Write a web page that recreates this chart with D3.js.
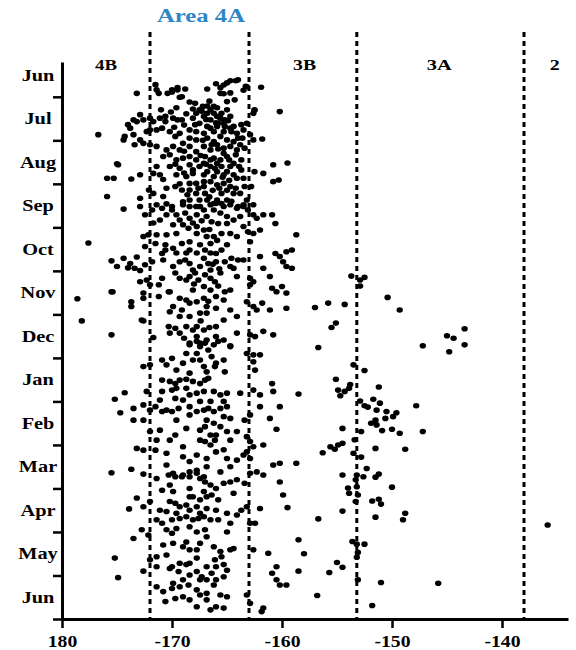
<!DOCTYPE html>
<html><head><meta charset="utf-8">
<script src="https://cdnjs.cloudflare.com/ajax/libs/d3/7.8.5/d3.min.js"></script>
<style>
html,body{margin:0;padding:0;background:#fff;}
svg{display:block;}
text{font-family:"Liberation Serif","Times New Roman",serif;font-weight:bold;}
</style></head>
<body><svg id="chart" width="576" height="650"></svg>
<script>
// ---------- data ----------
const monthLabels = ["Jun","Jul","Aug","Sep","Oct","Nov","Dec","Jan","Feb","Mar","Apr","May","Jun"];
const lonTicks = [-180,-170,-160,-150,-140];
const boundaries = [-172,-163,-153.2,-138];
const areaLabels = ["4B","3B","3A","2"];
const areaTitle = "Area 4A";
// observations: [longitude, months since 1 June]
const obsSummer = [
[-173.2,0.92],[-171.5,0.72],[-171.2,0.92],[-170.4,0.92],[-170.0,0.89],[-169.5,0.84],[-168.8,0.82],[-169.3,1.01],[-166.8,0.82],[-166.0,0.70],[-165.3,0.73],[-164.7,0.63],[-164.2,0.63],[-165.6,0.92],[-165.3,0.93],[-163.3,0.76],[-163.5,0.85],[-161.9,0.78],[-164.3,1.07],[-165.0,1.11],
[-171.4,0.84],[-170.0,0.84],[-169.5,0.79],[-169.1,1.0],[-165.6,0.79],[-165.0,0.68],[-164.0,0.61],[-164.7,0.91],[-163.2,0.77],[-162.5,1.30],
[-172.9,1.41],[-173.5,1.53],[-174.0,1.64],[-173.8,1.72],[-173.2,1.57],[-172.6,1.53],[-172.0,1.49],[-171.7,1.57],[-171.1,1.49],[-170.6,1.45],[-170.6,1.57],[-169.9,1.49],[-169.5,1.53],[-169.1,1.53],[-168.7,1.39],[-168.1,1.28],[-167.8,1.38],[-167.2,1.22],[-166.8,1.21],[-166.5,1.30],[-166.2,1.38],[-165.9,1.45],[-165.5,1.38],[-165.0,1.30],[-164.7,1.45],[-167.1,1.45],[-166.5,1.53],[-165.8,1.61],[-165.3,1.61],[-164.4,1.68],[-163.7,1.64],[-163.2,1.61],[-162.6,1.38],[-162.5,1.31],[-160.2,1.34],[-168.1,1.49],[-167.9,1.64],
[-176.7,1.87],[-174.4,1.99],[-174.3,1.91],[-173.5,1.87],[-172.9,1.99],[-172.3,1.80],[-172.0,1.76],[-171.4,1.76],[-170.9,1.72],[-170.2,1.80],[-169.7,1.91],[-169.3,1.84],[-168.4,1.76],[-167.8,1.80],[-167.1,1.84],[-166.5,1.72],[-165.9,1.68],[-165.3,1.80],[-164.7,1.72],[-164.1,1.84],[-163.5,1.76],[-162.9,1.87],[-162.6,1.99],[-161.8,1.97],
[-173.4,2.10],[-172.6,2.07],[-172.0,2.10],[-171.4,2.14],[-170.5,2.22],[-169.9,2.14],[-169.3,2.22],[-168.4,2.14],[-167.8,2.26],[-167.1,2.14],[-166.5,2.22],[-165.9,2.10],[-165.3,2.18],[-164.7,2.14],[-164.1,2.22],[-163.4,2.18],[-170.8,2.37],[-170.2,2.33],[-169.6,2.45],[-169.0,2.41],[-168.4,2.37],[-167.8,2.45],[-167.0,2.37],[-166.2,2.41],[-165.6,2.45],[-165.0,2.37],[-164.4,2.53],[-163.7,2.45],[-171.4,2.60],[-170.2,2.60],[-169.3,2.64],[-168.4,2.56],[-167.5,2.60],[-166.5,2.60],[-165.5,2.60],[-164.7,2.60],[-163.7,2.68],[-174.9,2.56],[-160.8,2.56],[-159.5,2.52],
[-175.9,2.87],[-175.3,2.87],[-173.7,2.89],[-172.9,2.79],[-171.7,2.76],[-171.1,2.79],[-169.6,2.79],[-168.7,2.83],[-168.1,2.76],[-167.1,2.79],[-166.2,2.83],[-165.3,2.79],[-164.4,2.79],[-163.5,2.87],[-162.5,2.72],[-161.7,2.76],[-160.8,2.95],[-160.3,2.91],
[-175.9,3.29],[-174.4,3.58],[-172.9,3.33],[-172.1,3.14],[-171.7,3.22],[-170.8,3.29],[-170.0,3.52],[-169.7,3.06],[-169.1,3.14],[-168.4,3.14],[-167.8,3.22],[-167.1,3.06],[-166.8,3.37],[-166.2,3.45],[-165.5,3.22],[-165.0,3.37],[-164.4,3.22],[-164.0,3.52],[-163.2,3.37],[-162.8,3.06],[-162.6,3.48],[-170.5,3.10],[-169.0,3.41],[-167.8,3.52],
[-167.5,1.30],[-166.8,1.38],[-166.2,1.22],[-165.6,1.49],[-165.2,1.53],[-167.5,1.61],[-166.8,1.68],[-166.2,1.80],[-165.6,1.91],[-165.0,1.99],[-164.4,2.03],[-166.8,1.95],[-166.2,2.03],[-167.8,1.99],[-168.4,1.95],[-169.0,2.07],[-166.5,2.45],[-165.9,2.53],[-167.1,2.53],[-168.1,2.68],[-166.8,2.72],[-165.9,2.72],[-165.0,2.72],[-164.1,2.87],[-166.5,2.95],[-165.9,3.02],[-165.3,2.99],[-164.7,3.06],[-167.1,2.95],[-167.8,2.99],[-168.4,2.99],[-163.8,3.22],[-163.4,3.06],[-163.5,3.52],[-165.9,3.37],[-167.5,3.37],[-168.4,3.37],
[-175.0,2.54],
[-167.9,1.15],[-167.3,1.33],[-166.9,1.52],[-166.0,1.60],[-165.2,1.68],[-164.6,1.80],[-164.0,1.95],[-163.8,2.10],[-164.2,2.33],[-164.8,2.45],[-165.3,2.30],[-165.8,2.20],[-166.4,2.10],[-167.2,2.00],[-167.4,2.35],[-166.9,2.55],[-166.1,2.65],[-165.4,2.85],[-164.8,2.92],[-164.2,3.10],[-165.0,3.15],[-165.7,3.10],[-166.3,3.15],[-167.0,3.22],[-167.6,3.10],[-166.6,3.30],[-165.5,3.45],[-164.6,3.40],[-163.9,2.60],[-163.6,1.95],[-164.9,1.55],[-165.9,1.25],[-166.6,1.10],[-168.4,1.12],[-169.6,1.25],[-170.1,1.35],[-171.0,1.30],[-168.9,1.65],[-169.8,1.70],[-168.9,2.25],[-169.7,2.55],[-170.8,2.90],[-169.3,3.00],[-168.6,3.25],[-168.9,2.75]
];
const obsAutumn = [
[-172.9,3.52],[-172.45,3.71],[-171.8,3.60],[-171.4,3.48],[-170.9,3.56],[-170.5,3.46],[-170.0,3.60],[-169.6,3.71],[-169.3,3.83],[-168.8,3.67],[-168.4,3.79],[-168.1,3.90],[-168.5,4.02],[-169.0,3.94],[-167.75,3.71],[-167.1,3.60],[-166.5,3.48],[-166.0,3.45],[-165.3,3.52],[-164.7,3.48],[-164.1,3.56],[-163.5,3.48],[-163.1,3.60],[-162.6,3.71],[-162.3,3.79],[-161.7,3.71],[-160.9,3.71],[-160.6,3.91],[-164.4,3.83],[-165.0,3.91],[-165.8,3.91],[-163.5,3.98],[-163.1,4.10],[-162.6,4.14],[-162.0,4.06],[-165.5,4.14],[-167.1,4.06],[-166.85,4.21],[-169.6,4.14],[-170.5,4.17],[-171.4,4.17],[-172.15,4.17],[-172.6,4.21],[-177.6,4.36],
[-172.45,4.44],[-171.5,4.37],[-170.6,4.40],[-169.9,4.48],[-169.1,4.37],[-168.4,4.33],[-167.45,4.40],[-167.0,4.52],[-166.5,4.37],[-166.0,4.60],[-165.5,4.52],[-165.0,4.40],[-162.9,4.33],[-170.6,4.52],
[-175.5,4.77],[-175.0,4.90],[-174.4,4.71],[-173.8,4.83],[-173.4,4.94],[-172.9,4.99],[-172.45,4.86],[-171.8,4.79],[-170.9,4.60],[-170.8,4.75],[-169.3,4.79],[-168.8,4.75],[-168.4,4.83],[-168.1,4.98],[-167.45,4.90],[-166.7,4.83],[-166.0,4.79],[-165.2,4.79],[-164.6,4.71],[-164.0,4.75],[-163.5,4.75],[-164.7,4.90],[-164.4,4.94],[-162.0,4.67],[-161.7,4.94],[-160.6,4.60],[-160.2,4.67],[-159.9,4.79],[-159.6,4.90],
[-172.9,5.25],[-172.3,5.21],[-172.0,5.32],[-171.2,5.32],[-170.9,5.17],[-170.2,5.48],[-169.7,5.05],[-169.3,5.17],[-168.7,5.21],[-168.4,5.13],[-167.6,5.21],[-167.0,5.09],[-166.5,5.17],[-166.1,5.25],[-167.1,5.36],[-168.1,5.44],[-162.9,5.17],[-162.9,5.32],[-162.6,5.25],[-161.1,5.13],[-160.9,5.40],[-160.5,5.48],[-160.0,5.36],[-159.6,5.51],
[-175.5,5.48],[-173.7,5.71],[-173.7,5.82],[-172.6,5.51],[-172.6,5.63],[-171.2,5.59],[-170.3,5.48],[-169.3,5.63],[-168.7,5.67],[-168.4,5.74],[-167.75,5.71],[-167.1,5.63],[-166.85,5.82],[-167.45,5.97],[-166.85,5.97],[-166.0,5.86],[-165.3,5.67],[-165.2,5.48],[-164.7,5.90],[-164.1,6.05],[-163.2,5.71],[-162.6,5.82],[-162.3,5.90],[-161.8,5.74],[-161.1,5.90],[-159.6,5.86],[-170.2,5.94],[-169.1,5.90],
[-175.5,6.47],[-172.75,6.13],[-171.7,6.53],[-170.3,6.28],[-169.7,6.32],[-169.3,6.43],[-168.7,6.28],[-168.1,6.36],[-167.75,6.51],[-168.4,6.66],[-167.45,6.66],[-166.85,6.59],[-166.0,6.51],[-164.7,6.74],[-164.1,6.43],[-162.9,6.47],[-162.45,6.51],[-161.7,6.39],[-160.8,6.47],[-170.2,6.43],
[-178.6,5.64],[-175.4,5.48],[-178.2,6.15],[-172.6,6.15],[-173.2,4.68],[-174.0,4.93],
[-167.45,3.52],[-166.85,3.75],[-166.2,3.60],[-165.6,3.67],[-165.0,3.75],[-163.8,3.75],[-166.4,3.87],[-167.75,3.98],[-168.4,3.52],[-169.0,3.48],[-169.9,3.94],[-170.5,3.71],[-171.1,3.83],[-171.7,3.90],[-164.7,4.14],[-164.1,4.21],[-166.2,4.21],[-167.75,4.14],[-168.4,4.52],[-167.75,4.59],[-167.1,4.71],[-166.5,4.59],[-169.6,4.59],[-168.7,4.59],[-169.9,4.90],[-166.5,4.98],[-165.6,5.05],[-164.1,5.13],[-164.7,5.44],[-166.0,5.59],[-166.5,5.44],[-169.9,5.82],[-168.4,6.05],[-167.75,6.28],[-165.3,6.13],[-166.0,6.28],[-169.3,6.05],[-167.1,6.36],[-165.3,6.59],
[-158.7,4.17],[-159.1,4.52],[-159.6,4.56],[-159.1,4.94],
[-167.3,3.85],[-166.6,4.05],[-165.9,4.30],[-166.3,4.85],[-165.7,4.95],[-167.9,5.05],[-168.0,5.30],[-166.7,5.70],[-165.8,5.35],[-167.4,6.15],[-166.6,6.30],[-168.9,6.55]
];
const obsWinter = [
[-168.4,6.70],[-167.75,6.62],[-167.0,6.66],[-166.2,6.70],[-165.8,6.62],[-164.7,6.72],[-163.2,6.90],[-162.6,6.93],[-162.0,6.93],[-162.6,7.09],[-162.45,7.28],[-170.9,7.05],[-170.5,7.16],[-170.0,7.01],[-168.7,6.90],[-167.75,6.90],[-167.45,7.05],[-167.1,7.20],[-166.85,7.32],[-166.4,6.97],[-166.0,7.12],[-165.3,7.05],[-165.2,7.32],[-166.1,7.20],[-168.4,7.35],[-170.9,7.51],[-170.2,7.54],[-169.7,7.59],[-169.3,7.51],[-168.7,7.49],[-168.1,7.54],[-167.45,7.59],[-167.0,7.51],[-166.7,7.47],[-168.7,7.70],[-169.6,7.70],[-170.0,7.74],[-172.6,7.20],[-172.0,7.16],[-174.3,7.80],[-175.2,7.95],[-172.3,7.77],[-170.9,7.77],[-171.1,7.97],[-169.7,7.93],[-169.0,7.97],[-168.4,7.85],[-167.45,8.0],[-167.1,7.77],[-166.2,7.77],[-165.6,7.85],[-165.0,7.81],[-165.3,8.0],[-166.5,8.0],[-163.8,7.81],[-162.6,7.74],[-162.0,7.85],[-160.9,7.59],[-160.8,7.77],
[-174.7,8.26],[-173.5,8.16],[-172.6,8.08],[-172.0,8.2],[-171.5,8.12],[-170.9,8.23],[-170.5,8.2],[-170.0,8.23],[-169.4,8.16],[-169.6,8.43],[-168.4,8.31],[-167.75,8.23],[-167.1,8.2],[-166.7,8.16],[-166.2,8.23],[-165.6,8.16],[-165.0,8.12],[-165.3,8.35],[-164.7,8.39],[-162.9,8.31],[-163.4,8.43],[-162.0,8.12],[-161.1,8.39],[-160.2,8.12],
[-173.5,8.43],[-172.6,8.43],[-172.0,8.69],[-171.1,8.66],[-169.7,8.77],[-168.7,8.62],[-167.45,8.66],[-167.0,8.58],[-166.5,8.77],[-166.1,8.89],[-167.45,8.89],[-167.0,8.92],[-166.5,9.0],[-166.0,8.77],[-165.0,8.69],[-164.1,8.69],[-163.2,8.81],[-162.9,8.92],[-162.6,9.04],[-161.7,9.0],[-160.5,8.64],
[-173.2,9.08],[-172.6,9.12],[-171.5,9.12],[-170.5,9.19],[-169.0,9.04],[-167.75,9.23],[-168.4,9.38],[-166.85,9.31],[-166.0,9.16],[-165.0,9.31],[-164.1,9.35],[-163.5,9.23],[-163.2,9.16],[-162.9,9.31],[-160.8,9.46],[-160.2,9.42],
[-175.5,9.64],[-173.7,9.56],[-170.5,9.46],[-169.9,9.65],[-169.0,9.69],[-168.4,9.62],[-167.75,9.58],[-167.1,9.73],[-165.6,9.62],[-164.7,9.50],[-162.9,9.65],[-162.3,9.62],[-161.7,9.69],
[-172.6,9.67],
[-168.1,7.05],[-166.7,6.82],[-167.45,6.74],[-169.0,7.12],[-169.6,7.28],[-167.75,7.81],[-168.4,8.12],[-166.85,8.43],[-166.2,8.50],[-165.6,8.58],[-164.7,8.89],[-165.3,9.11],[-166.85,9.50],[-169.0,9.27],[-170.2,8.89],[-171.4,8.89]
];
const obsSpring = [
[-171.4,9.77],[-170.3,9.69],[-169.7,9.73],[-169.1,9.73],[-168.4,9.73],[-167.75,9.65],[-167.45,9.77],[-167.0,9.85],[-166.5,9.92],[-166.0,10.0],[-165.3,9.88],[-164.7,9.85],[-164.1,9.80],[-163.4,9.88],
[-160.2,9.85],[-159.9,10.15],[-170.9,10.04],[-170.2,9.92],[-169.9,10.07],[-168.4,10.0],[-168.1,10.19],[-167.1,10.07],[-166.85,10.19],[-166.4,10.15],[-165.8,10.26],[-164.4,10.11],[-162.0,10.46],[-173.2,10.22],[-172.6,10.42],[-172.0,10.30],[-171.1,10.50],[-170.5,10.53],[-170.2,10.30],[-169.7,10.34],[-169.3,10.42],[-168.7,10.38],[-168.4,10.50],[-167.75,10.42],[-167.45,10.57],[-166.85,10.46],[-166.0,10.50],[-165.0,10.57],[-164.1,10.61],[-163.7,10.50],[-163.2,10.42],[-162.9,10.80],[-162.45,10.80],[-173.9,10.47],
[-171.4,10.72],[-170.9,10.80],[-170.0,10.72],[-169.3,10.69],[-168.7,10.65],[-168.1,10.72],[-167.6,10.69],[-167.1,10.65],[-166.5,10.72],[-165.8,10.72],[-164.7,10.80],[-170.5,10.95],[-169.6,10.92],[-170.0,11.03],[-167.75,11.0],[-167.0,10.95],[-165.0,11.0],
[-173.5,11.15],[-172.75,10.95],[-172.15,11.07],[-170.8,11.30],[-169.9,11.26],[-169.0,11.34],[-168.7,11.23],[-168.4,11.41],[-167.45,11.26],[-165.6,11.45],[-164.7,11.41],[-164.4,11.38],[-162.6,11.41],[-161.25,11.49],
[-172.0,11.64],[-171.4,11.57],[-170.5,11.53],[-170.0,11.80],[-169.3,11.72],[-168.7,11.75],[-167.75,11.60],[-166.85,11.80],[-166.1,11.64],[-166.0,11.80],[-165.5,11.57],[-165.3,11.75],[-165.0,11.88],[-171.4,11.80],[-160.5,11.80],
[-170.2,11.84],[-169.4,11.91],[-168.4,11.99],[-167.75,11.91],[-167.3,12.03],[-166.4,11.95],[-166.0,12.10],[-165.3,12.03],[-160.9,11.95],[-160.5,12.10],[-160.2,12.22],[-159.6,12.22],
[-171.4,12.26],[-170.8,12.37],[-170.0,12.30],[-169.3,12.26],[-168.5,12.22],[-167.75,12.33],[-167.45,12.45],[-166.85,12.41],[-166.2,12.22],[-165.6,12.45],[-165.0,12.49],[-163.2,12.45],[-162.9,12.64],
[-170.6,12.60],[-169.7,12.53],[-169.0,12.49],[-167.75,12.72],[-166.85,12.56],[-166.5,12.79],[-166.0,12.72],[-165.3,12.75],[-161.7,12.75],[-161.85,12.83],
[-175.2,11.6],[-172.6,11.9],[-174.9,12.05],
[-167.45,10.26],[-168.4,10.19],[-169.6,10.57],[-168.4,10.88],[-166.85,11.11],[-166.2,11.34],[-167.75,11.41],[-168.4,11.72],[-167.45,12.10],[-169.0,12.10],[-166.85,12.10],[-168.4,12.56],[-169.9,12.18]
];
const obsEast = [
[-157.0,5.84],[-155.8,5.74],[-154.3,5.77],[-155.1,6.20],[-155.5,6.30],[-156.7,6.76],[-153.7,5.12],[-152.9,5.21],[-152.5,5.15],[-152.9,5.35],[-150.4,5.61],[-149.3,5.90],[-147.2,6.72],[-145.0,6.49],[-144.4,6.55],[-143.4,6.33],[-143.4,6.70],[-144.8,6.86],
[-153.5,7.16],[-152.5,7.29],[-155.1,7.49],[-154.9,7.74],[-154.7,7.87],[-154.3,7.77],[-153.9,7.70],[-153.8,7.61],[-158.5,7.83],[-151.2,7.67],
[-152.9,7.99],[-152.5,8.10],[-151.7,7.95],[-151.1,8.04],[-152.2,8.13],[-151.4,8.20],[-150.5,8.23],[-149.6,8.26],[-149.9,8.35],[-150.6,8.39],[-151.5,8.43],[-151.9,8.50],[-151.4,8.54],[-150.9,8.67],[-150.0,8.64],[-149.3,8.73],[-152.8,8.69],[-147.8,8.10],[-147.2,8.69],[-154.5,8.62],
[-156.3,9.18],[-155.6,9.04],[-155.2,9.10],[-154.9,9.0],[-154.5,8.96],[-153.4,8.88],[-153.5,9.19],[-152.8,9.28],[-151.5,9.08],[-148.8,9.10],[-158.7,9.42],[-152.3,9.54],[-154.5,9.69],[-153.2,9.69],[-152.6,9.73],[-153.3,9.80],[-151.5,9.74],[-151.2,9.67],[-154.0,9.99],[-153.9,10.11],[-150.0,9.97],[-153.2,9.96],[-153.1,10.15],[-153.3,10.30],[-151.8,10.29],[-151.2,10.25],[-151.0,10.36],[-154.5,10.52],[-159.5,10.44],[-156.7,10.70],[-151.5,10.66],[-148.8,10.57],[-149.0,10.72],[-135.85,10.84],[-158.5,11.18],[-153.6,11.22],[-153.2,11.28],[-152.5,11.28],[-153.1,11.47],[-153.2,11.58],[-158.0,11.50],[-155.0,11.70],[-154.5,11.81],[-155.7,11.93],[-158.5,11.90],[-153.1,12.10],[-151.0,12.16],[-145.8,12.18],[-156.8,12.46],[-151.8,12.69]
];

// ---------- drawing ----------
const svg = d3.select("#chart");
const x = d3.scaleLinear().domain([-180,-134]).range([62,568]);
const y = d3.scaleLinear().domain([0.2,13]).range([62,619]);

// boundary dashed lines
svg.append("g").selectAll("line").data(boundaries).join("line")
  .attr("x1", d=>x(d)).attr("x2", d=>x(d))
  .attr("y1", 32).attr("y2", y(13))
  .attr("stroke","#000").attr("stroke-width",3).attr("stroke-dasharray","5,4");

// points
const allObs = [].concat(obsSummer, obsAutumn, obsWinter, obsSpring, obsEast);
svg.append("g").selectAll("ellipse").data(allObs).join("ellipse")
  .attr("cx", d=>x(d[0])).attr("cy", d=>y(d[1]))
  .attr("rx",3.2).attr("ry",2.8).attr("fill","#000");

// x axis
const xAxis = d3.axisBottom(x).tickValues(lonTicks).tickSize(9).tickSizeOuter(0)
  .tickFormat(d => d === -180 ? "180" : "-" + Math.abs(d));
const gx = svg.append("g").attr("transform",`translate(0,${y(13)})`).call(xAxis);
gx.select(".domain").attr("stroke-width",3);
gx.selectAll(".tick line").attr("stroke-width",2.5);
gx.selectAll(".tick text").attr("dy",null)
  .attr("font-size",16).attr("font-family","Liberation Serif, serif").attr("font-weight","bold")
  .attr("fill","#000").attr("transform","scale(1.23,1)")
  .attr("y",28);

// y axis
const yAxis = d3.axisLeft(y).tickValues(d3.range(1,14)).tickSize(9).tickSizeOuter(0).tickFormat("");
const gy = svg.append("g").attr("transform",`translate(${x(-180)},0)`).call(yAxis);
gy.select(".domain").attr("stroke-width",3);
gy.selectAll(".tick line").attr("stroke-width",2.5);

// month labels
svg.append("g").selectAll("text").data(monthLabels).join("text")
  .attr("transform",(d,i)=>`translate(38,${y(i+0.5)+5.5}) scale(1.27,1)`)
  .attr("text-anchor","middle").attr("font-size",16).attr("fill","#000")
  .text(d=>d);

// area labels
const areaPos = [-176, -157.95, -145.7, -135.2];
const areaW = [22, 23, 25, 10];
svg.append("g").selectAll("text").data(areaLabels).join("text")
  .attr("x",(d,i)=>x(areaPos[i])).attr("y",70)
  .attr("text-anchor","middle").attr("font-size",14).attr("fill","#000")
  .attr("textLength",(d,i)=>areaW[i]).attr("lengthAdjust","spacingAndGlyphs")
  .text(d=>d);

svg.append("text")
  .attr("x", x((boundaries[0]+boundaries[1])/2)+1.5).attr("y",22)
  .attr("text-anchor","middle").attr("font-size",18).attr("fill","#2f86c6")
  .attr("textLength",88).attr("lengthAdjust","spacingAndGlyphs")
  .text(areaTitle);
</script>
</body></html>
